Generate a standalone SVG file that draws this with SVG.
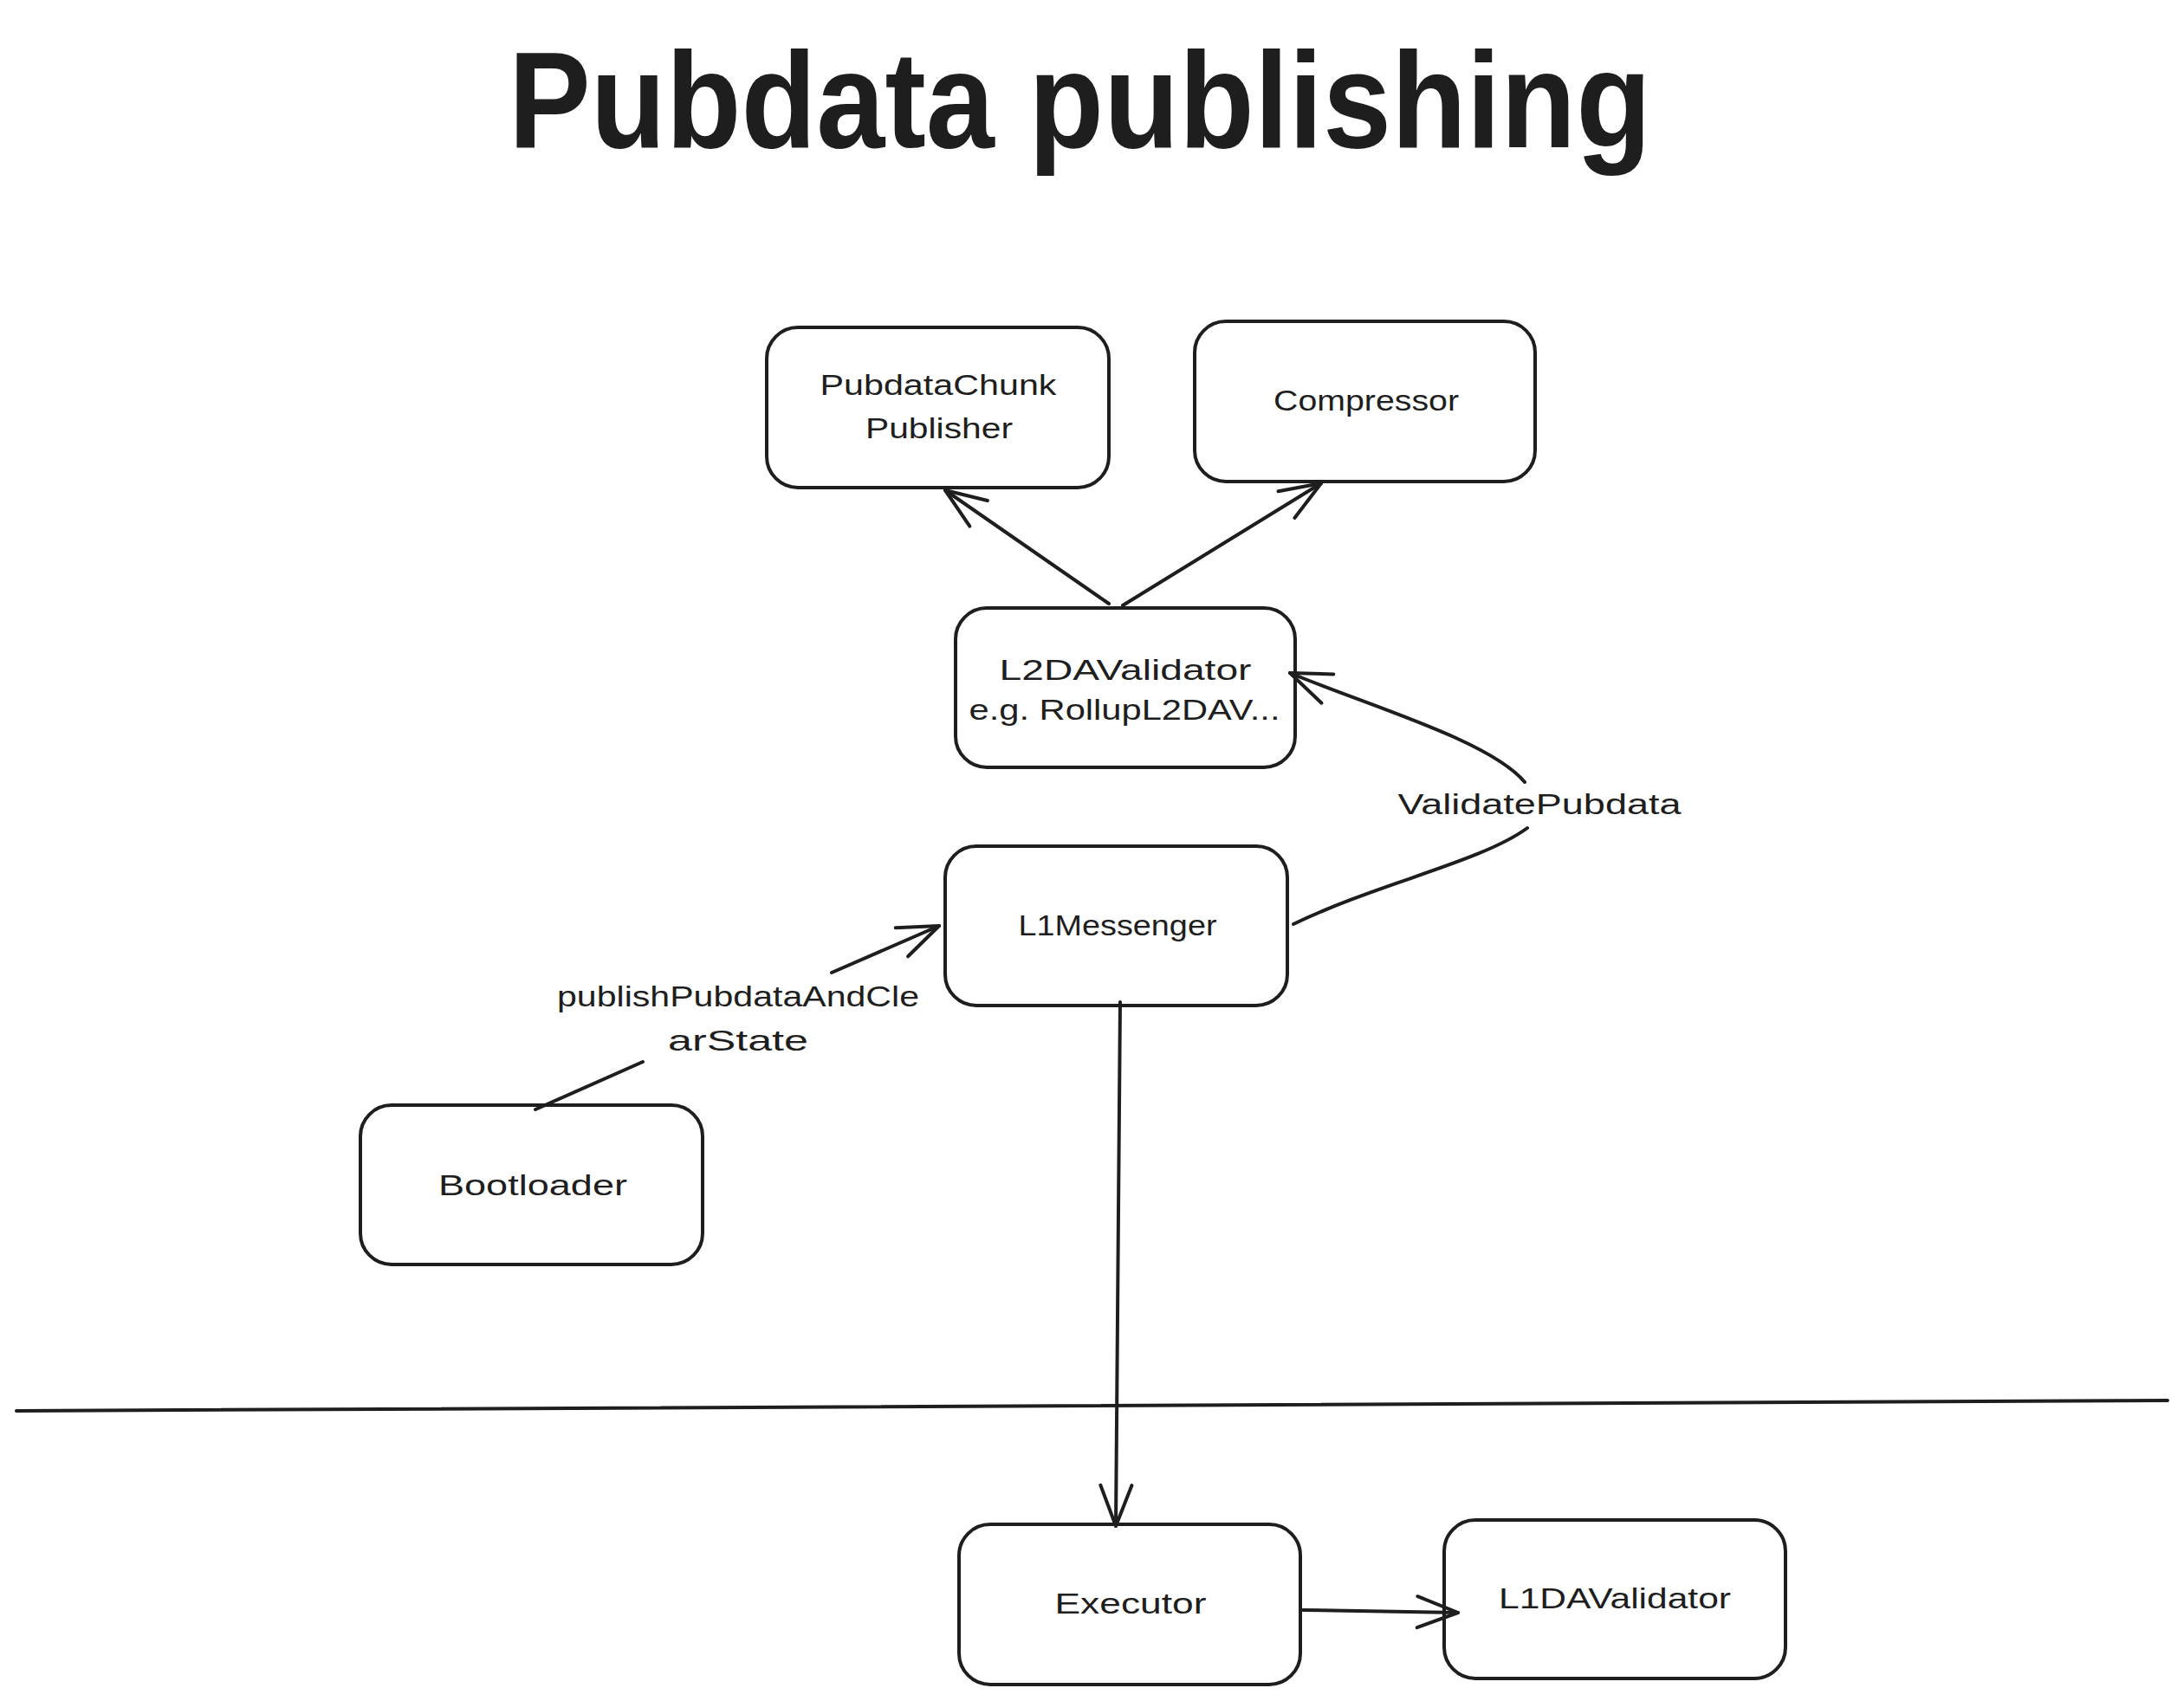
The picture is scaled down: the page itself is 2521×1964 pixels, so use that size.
<svg xmlns="http://www.w3.org/2000/svg" width="2521" height="1964" viewBox="0 0 2521 1964">
<style>
.box{fill:#ffffff;stroke:#1e1e1e;stroke-width:4}
.t{font-family:"Liberation Sans","Noto Sans",sans-serif;font-size:34px;fill:#1e1e1e;text-anchor:middle}
.c{fill:none;stroke:#1e1e1e;stroke-width:4;stroke-linecap:round;stroke-linejoin:round}
.title{font-family:"Liberation Sans","DejaVu Sans",sans-serif;font-weight:bold;font-size:158px;fill:#1e1e1e}
</style>
<defs>
<marker id="ah" markerUnits="userSpaceOnUse" markerWidth="60" markerHeight="60" viewBox="-55 -30 60 60" refX="0" refY="0" orient="auto" overflow="visible">
<path d="M-47,-18 L0,0 L-47,18" fill="none" stroke="#1e1e1e" stroke-width="4" stroke-linecap="round" stroke-linejoin="round"/>
</marker>
</defs>
<rect width="2521" height="1964" fill="#ffffff"/>
<text class="title" x="587" y="170" textLength="1319" lengthAdjust="spacingAndGlyphs">Pubdata publishing</text>

<path id="divider" class="c" d="M19,1629 L2502,1617"/>

<g id="node-pubdatachunk">
<rect class="box" x="885" y="378" width="395" height="185" rx="36"/>
<text class="t" x="1083" y="456" textLength="273" lengthAdjust="spacingAndGlyphs">PubdataChunk</text>
<text class="t" x="1084" y="506" textLength="170" lengthAdjust="spacingAndGlyphs">Publisher</text>
</g>
<g id="node-compressor">
<rect class="box" x="1379" y="371" width="393" height="185" rx="36"/>
<text class="t" x="1577" y="474" textLength="214" lengthAdjust="spacingAndGlyphs">Compressor</text>
</g>
<g id="node-l2davalidator">
<rect class="box" x="1103" y="702" width="392" height="184" rx="36"/>
<text class="t" x="1299" y="785" textLength="291" lengthAdjust="spacingAndGlyphs">L2DAValidator</text>
<text class="t" x="1298" y="831" textLength="359" lengthAdjust="spacingAndGlyphs">e.g. RollupL2DAV...</text>
</g>
<g id="node-l1messenger">
<rect class="box" x="1091" y="977" width="395" height="184" rx="36"/>
<text class="t" x="1290" y="1080" textLength="229" lengthAdjust="spacingAndGlyphs">L1Messenger</text>
</g>
<g id="node-bootloader">
<rect class="box" x="416" y="1276" width="395" height="184" rx="36"/>
<text class="t" x="615" y="1380" textLength="218" lengthAdjust="spacingAndGlyphs">Bootloader</text>
</g>
<g id="node-executor">
<rect class="box" x="1107" y="1760" width="394" height="185" rx="36"/>
<text class="t" x="1305" y="1863" textLength="175" lengthAdjust="spacingAndGlyphs">Executor</text>
</g>
<g id="node-l1davalidator">
<rect class="box" x="1667" y="1755" width="394" height="183" rx="36"/>
<text class="t" x="1864" y="1857" textLength="268" lengthAdjust="spacingAndGlyphs">L1DAValidator</text>
</g>

<g id="connectors">
<path class="c" d="M1280,697 L1091,566" marker-end="url(#ah)"/>
<path class="c" d="M1296,699 L1525,558" marker-end="url(#ah)"/>
<path class="c" d="M1493,1067 C1590,1020 1710,995 1763,956"/>
<path class="c" d="M1760,903 C1720,855 1580,815 1489,777" marker-end="url(#ah)"/>
<text class="t" x="1777" y="940" textLength="327" lengthAdjust="spacingAndGlyphs">ValidatePubdata</text>
<path class="c" d="M618,1281 L742,1226"/>
<path class="c" d="M960,1123 L1084,1069" marker-end="url(#ah)"/>
<text class="t" x="852" y="1162" textLength="418" lengthAdjust="spacingAndGlyphs">publishPubdataAndCle</text>
<text class="t" x="852" y="1213" textLength="162" lengthAdjust="spacingAndGlyphs">arState</text>
<path class="c" d="M1293,1157 L1288,1762" marker-end="url(#ah)"/>
<path class="c" d="M1504,1859 L1683,1862" marker-end="url(#ah)"/>
</g>
</svg>
